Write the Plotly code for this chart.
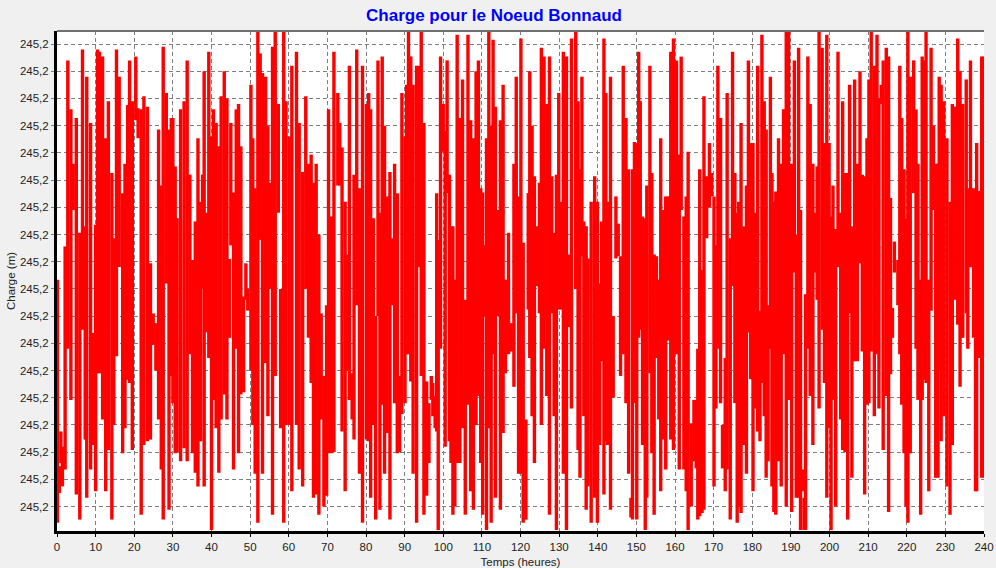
import plotly.graph_objects as go

# Values. Levels are millimetres above 245.15 m.
BASE_M = 245.15
TITLE = "Charge pour le Noeud Bonnaud"
X_TITLE = "Temps (heures)"
Y_TITLE = "Charge (m)"
x_ticks = list(range(0, 241, 10))
y_ticks_mm = [10, 15, 20, 25, 30, 35, 40, 45, 50, 55, 60, 65, 70, 75, 80, 85, 90, 95]

hours_a = [0.1,0.6,1.0,1.4,2.1,2.8,3.6,4.2,5.0,5.9,6.6,7.3,7.7,8.7,9.3,10.0,10.5,11.0,11.8,12.6,13.3,14.2,14.7,15.4,16.1,17.0,17.6,18.3,18.8,19.5,20.4,21.0,21.8,22.5,23.4,24.2,24.9,25.6,26.3,27.0,27.5,28.3,29.0,29.6]
high_a = [51.7,17.4,23.8,21,57.8,92,83,73,81.4,60.3,94,61.5,89,80.5,41.9,61.8,94,93.6,92.7,77.7,84.5,71.3,59.3,94,89,67.6,73,83.8,92,84.5,92.7,83.2,83,85.4,83.5,54.7,45.5,43.7,79.3,69,94.5,86,79.3,81.4]
low_a = [7,12.5,18,13.7,16.8,39,29.6,64.5,12.2,7.6,42.5,22.3,11.6,16.8,21.3,12.8,34.5,34.5,26,12.8,20.4,7.6,25,37.6,54,19.8,24.4,33.3,32.7,20.4,81,77.7,8.5,21.3,22,22.3,39.7,35,26,16.8,7.6,51,9.4,34]

hours_b = [30.0,30.6,31.1,32.0,32.9,33.7,34.4,35.1,35.8,36.5,37.2,37.7,38.1,38.7,39.3,40.0,40.5,41.2,41.9,42.5,43.3,44.0,44.6,45.0,45.7,46.4,47.0,47.6,48.3,48.9,49.4,50.2,50.7,51.3,52.0,52.6,53.2,54.0,54.6,55.2,55.8,56.5,57.3,57.9,58.7,59.3]
high_b = [81.4,72.5,63,83,84.5,92,71,55.3,62.4,77.7,66,71,90,64,93.6,78,83,80.5,76.2,85.4,90,85,55.5,80.5,67.7,83,84,76.2,48.6,54.7,50,87.5,77.7,68.5,97.3,93.3,89.7,89,80,69.5,94.5,97.3,84,50,97.3,84.5]
low_b = [29,19.8,20,18.3,20.7,18.3,38,19.8,16.2,13.7,22,50,13.7,42,37.3,5.7,29.6,24.4,16.2,26,30.6,26,41,58,16.8,39,19.8,30.6,31,48,46,35,25,16,7,59,16,36.4,26.6,50,8.5,34,64,24.4,7,25]

hours_c = [60.1,60.8,62.0,62.7,63.6,64.4,65.1,65.8,66.4,67.1,67.8,68.4,69.1,69.8,70.3,71.1,71.7,72.7,73.2,73.8,74.6,75.2,75.7,76.4,76.9,77.6,78.3,79.1,80.1,80.7,81.2,81.9,82.5,83.1,83.6,84.2,84.8,85.5,86.2,86.8,87.4,88.1,88.7,89.3]
high_c = [78,91,93.6,80.5,71.5,85.4,73,74.7,69.5,73,60,45.5,34,47,83,63.3,93.6,86,80.5,76,66,56.3,91,34.5,71,94,68.5,91,84,86,83,63,45,92,64,92.7,80,67,71.5,59.3,73,67.6,34,86]
low_c = [25,12.8,25,16.8,13.7,50,41,32.7,11.6,12.2,8.5,26,10,12,19.8,19.8,20,69,69,23.8,12.8,35,29.6,26,22.3,47,16,7,22.3,22,11.6,25,7.6,45,9.4,28.7,16,23.5,7.6,47,29,19.8,20,27]

hours_d = [90.1,90.5,91.0,91.6,92.2,93.1,93.7,94.3,95.0,95.7,96.3,96.9,97.3,97.9,98.3,98.7,99.3,100.0,100.5,101.0,101.6,102.0,102.5,103.0,103.6,104.3,105.0,105.7,106.4,107.1,107.8,108.5,109.1,109.7,110.2,110.8,111.2,111.8,112.4,112.9,113.5,114.2,114.8,115.5,116.1,116.9,117.6,118.3,118.9,119.5]
high_d = [78,87.5,97.3,92.7,87.5,91,91,97.3,80.5,33,29,34,32.7,30.3,67.6,59,92.7,84,79,92,71,61.5,61.5,51.7,96.7,81.4,88.5,48,96.7,81,77.7,90,92,68.5,67.7,58,77.7,97.3,80,95.8,83.5,64.5,81,87.5,51.7,60.3,43.7,73,89,67]
low_d = [29,38,38,33,16,7,54,34,8.5,12,18,29.6,26.6,24.4,23.8,5.7,39,75.2,21,67.6,22,18,8.5,10,18,18,24.4,8.5,28.7,12.8,9.4,25,30.3,18,8.5,45,5.7,24.4,7,38,11.6,45,9.4,23.5,34.5,38,38.5,32,45.5,16]

hours_e = [120.1,120.7,121.4,122.0,122.4,123.0,123.6,124.3,124.9,125.4,126.1,126.8,127.5,128.1,128.7,129.3,129.9,130.5,131.1,131.9,132.6,133.2,134.3,134.9,135.4,135.9,136.4,137.0,137.5,138.3,139.2,139.9,140.5,141.0,141.6,142.1,142.5,143.3,144.0,144.7,145.3,145.9,146.6,147.3,148.0,148.6,149.0,149.5]
high_e = [96,58.5,26,67.6,90,80,70.7,61.5,69.5,94.3,92.7,84,92.7,70.7,60.3,71,86,66,93.6,92.7,56.3,96,97.3,84.5,72,89,62.4,61.5,55.6,66,70.7,66,51,62.4,96,86,66,89,45,67,62,56,91,81.4,72,11.6,72,77]
low_e = [16,7,7.6,46.2,37.3,26.6,18,50.5,45.5,25,39,30.3,8.5,45.5,26.6,5.7,46.2,46.2,16,5.7,43,28,50,20.4,15.3,56,26.6,9.4,13.7,7,11.6,7,21.3,36.7,12.2,22,21.3,9.4,30,55.6,56,34,38,29,16,8,7.6,29]

hours_f = [150.1,150.6,151.0,151.6,152.3,152.7,153.5,154.0,154.6,155.2,155.8,156.3,157.0,157.6,158.2,158.9,159.6,160.4,161.1,161.6,162.3,162.9,163.4,164.2,164.9,165.5,165.9,166.4,167.0,167.5,168.2,168.9,169.5,170.1,170.6,171.1,171.8,172.3,173.0,173.5,174.3,174.9,175.5,176.1,176.5,177.1,177.8,178.5,179.0,179.6]
high_f = [76.8,93.6,84.5,63.3,63,69,91,71.3,56.3,56,51.7,77.7,64.5,67,67,93.6,96,92,74.7,92.7,63.3,67,75.2,25.3,29.6,29.6,39,72,53.5,85.4,70.7,76.8,71.3,67,58,91,81.4,25,37.3,86,59.3,93.6,71.3,64,66,80.5,61.5,69,92,76.8]
low_f = [7.6,41,42.5,21.3,5.7,11.6,34.5,19.8,8.5,37.3,26,12.8,22.3,16.8,40.5,22.3,20.4,38,16.8,64.5,16.8,12.8,5.7,10,18.3,17,7.6,8.2,8.8,9.4,59.3,65,67,13.7,28,39,29,17,12.8,16.8,7.6,50.5,29,7,10,8.8,21.3,16,42,33.4]

hours_g = [180.2,180.7,181.4,182.0,182.5,183.1,183.6,184.1,184.7,185.1,185.6,186.1,186.8,187.5,188.1,188.8,189.4,190.2,190.9,191.4,192.0,192.5,193.0,193.4,193.8,194.4,195.0,195.7,196.3,196.8,197.3,198.1,198.7,199.3,199.9,200.4,200.9,201.6,202.2,202.9,203.4,204.0,204.7,205.2,205.8,206.5,207.2,207.9,208.5,209.1,209.7]
high_g = [76.8,64,91,46,96.7,84.5,79.3,47,89,71.3,66,67.9,77.7,73,83,97.3,97.3,73,92,60,94.3,64.5,16.8,11.6,49,92.7,84,73,64,72.5,97.3,94.3,76.8,96.7,76.8,63.3,69,61,93.6,64,84.5,71.3,71.3,87.5,61.5,88.5,73,90,71,70.7,77.7]
low_g = [12.8,28,23.8,22,32.7,26.6,15.3,18.3,39,13.7,9,8.5,18.3,13.7,38,10,29.6,9,53,11.6,11.6,5.7,12.8,5.7,5.7,39,30.3,21.3,53,48,28,42.5,32.7,11.6,24.4,5.7,29.6,10,54,26,20.4,20,7.6,45.5,15.3,36.7,36.7,54.7,38.5,12.2,28.7]

hours_h = [210.2,210.8,211.6,212.3,212.8,213.4,213.9,214.7,215.3,215.8,216.3,216.8,217.7,218.2,218.7,219.3,219.8,220.3,220.9,221.8,222.4,222.9,223.6,224.0,224.6,225.0,225.7,226.3,226.9,227.5,228.1,228.4,228.9,229.6,230.4,231.2,231.8,232.5,233.2,233.8,234.5,235.4,235.8,236.5,237.3,237.8,238.1,238.7,239.4,240.0]
high_h = [88.5,97.3,91,96.7,85,87.5,92,94.3,92.7,66.7,46.5,58.7,55.3,91,81.4,72,63,97.3,89,92,83,73,51.7,92.7,92,97.3,51.7,94.3,80,73,73,89,87.5,84.5,77.7,66,84,83.5,96,90,84,88.5,68.5,92,68.5,41,76.8,68,92.7,92.7]
low_h = [29,38.5,26.6,38,28,84,20.4,30.3,9,34.3,41,53,47,38,28.7,19.8,10,7,19.8,67.6,39,29.6,8.5,29.6,33.3,32.7,12.8,46,64.5,15.3,15.3,35,22,26.6,13.7,8.5,21.3,48,43.4,32,41,45.5,39,54,41,12.8,12.8,37.3,15.3,15.3]

hours = hours_a + hours_b + hours_c + hours_d + hours_e + hours_f + hours_g + hours_h
highs = high_a + high_b + high_c + high_d + high_e + high_f + high_g + high_h
lows = low_a + low_b + low_c + low_d + low_e + low_f + low_g + low_h
assert len(hours) == len(highs) == len(lows), (len(hours), len(highs), len(lows))

# Each reading is a vertical stroke from the high to the low level of that instant.
xs, ys = [], []
for h, hi, lo in zip(hours, highs, lows):
    xs += [h, h, None]
    ys += [BASE_M + hi / 1000, BASE_M + lo / 1000, None]

FONT = "Liberation Sans, Arial, sans-serif"
GRID_DASH = "4px,3px"

fig = go.Figure(go.Scatter(x=xs, y=ys, mode="lines", connectgaps=False,
                           line=dict(color="#ff0000", width=3.4, simplify=False),
                           hoverinfo="skip"))

fig.update_layout(
    width=996, height=568, autosize=False,
    margin=dict(l=57, r=12, t=31, b=37, pad=0),
    paper_bgcolor="#f0f0f0", plot_bgcolor="#ffffff",
    showlegend=False, separators=", ",
    font=dict(family=FONT, color="#222222", size=11),
    title=dict(text="<b>" + TITLE + "</b>", x=494 / 996, xanchor="center", y=1 - 15 / 568, yanchor="middle",
               font=dict(color="#0000ff", size=17, family=FONT)),
)
fig.update_xaxes(
    range=[0, 240], tickvals=x_ticks, ticks="outside", ticklen=3, tickcolor="#000000",
    showline=True, linecolor="#000000", linewidth=3, automargin=False,
    showgrid=True, gridcolor="#808080", griddash=GRID_DASH, gridwidth=1, zeroline=False,
    title=dict(text=X_TITLE, standoff=7, font=dict(size=11.5)), tickfont=dict(size=11.5),
)
fig.update_yaxes(
    range=[BASE_M + 5.5 / 1000, BASE_M + 97.4 / 1000],
    tickvals=[BASE_M + v / 1000 for v in y_ticks_mm], tickformat=".1f",
    ticks="outside", ticklen=3, tickcolor="#808080",
    showline=True, linecolor="#000000", linewidth=3, automargin=False,
    showgrid=True, gridcolor="#808080", griddash=GRID_DASH, gridwidth=1, zeroline=False,
    title=dict(text=Y_TITLE, standoff=2, font=dict(size=11.5)), tickfont=dict(size=11.5),
)
# top edge of the plot frame
fig.add_shape(type="line", xref="paper", yref="paper", x0=0, x1=1, y0=1, y1=1,
              line=dict(color="#707070", width=2))

fig.write_html("out.html", config={"displayModeBar": False},
               post_script="document.body.style.margin='0';")
